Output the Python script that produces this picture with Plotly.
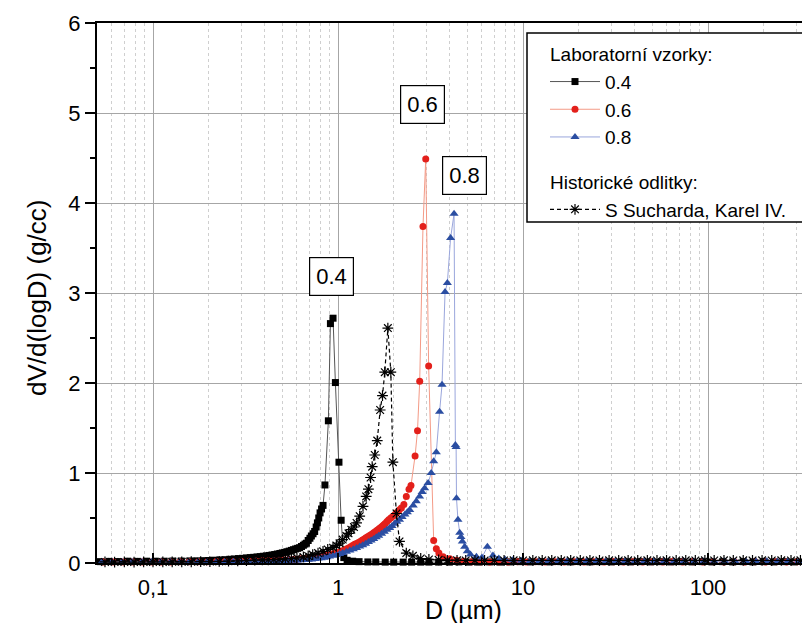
import math
import plotly.graph_objects as go

# ---------------- data ----------------
X_04 = [0.052, 0.058, 0.065, 0.073, 0.082, 0.092, 0.103, 0.115, 0.128, 0.142,
        0.158, 0.172, 0.187, 0.2, 0.215, 0.23, 0.245, 0.26, 0.275, 0.29,
        0.305, 0.32, 0.335, 0.35, 0.365, 0.38, 0.395, 0.41, 0.425, 0.44,
        0.455, 0.47, 0.485, 0.5, 0.515, 0.53, 0.545, 0.56, 0.575, 0.59,
        0.605, 0.62, 0.635, 0.65, 0.663, 0.675, 0.69, 0.705, 0.718, 0.733,
        0.748, 0.762, 0.774, 0.787, 0.8, 0.815, 0.83, 0.85, 0.887, 0.91,
        0.94, 0.968, 1.012, 1.04, 1.075, 1.12, 1.2, 1.3, 1.45, 1.6,
        1.8, 2.0, 2.25, 2.5, 2.8, 3.1, 3.5, 4.0, 4.5, 5.1,
        5.8, 6.6, 7.5, 8.5, 9.7, 11, 12.5, 14, 16, 18,
        20.5, 23, 26, 30, 34, 38, 43, 49, 56, 63,
        72, 82, 93, 105, 120, 136, 155, 175, 200, 227,
        258, 293, 333]
Y_04 = [0.015, 0.018, 0.016, 0.02, 0.018, 0.02, 0.02, 0.02, 0.022, 0.022,
        0.023, 0.024, 0.026, 0.028, 0.031, 0.034, 0.037, 0.041, 0.045, 0.049,
        0.052, 0.056, 0.06, 0.063, 0.067, 0.071, 0.075, 0.079, 0.084, 0.089,
        0.094, 0.1, 0.106, 0.112, 0.118, 0.125, 0.132, 0.14, 0.148, 0.156,
        0.163, 0.17, 0.183, 0.197, 0.21, 0.22, 0.25, 0.275, 0.3, 0.325,
        0.35, 0.4, 0.446, 0.5, 0.557, 0.6, 0.64, 0.867, 1.58, 2.66,
        2.72, 2.005, 1.12, 0.475, 0.06, 0.03, 0.02, 0.015, 0.012, 0.012,
        0.01, 0.01, 0.01, 0.01, 0.01, 0.01, 0.01, 0.01, 0.012, 0.01,
        0.01, 0.012, 0.01, 0.012, 0.015, 0.012, 0.015, 0.012, 0.015, 0.012,
        0.015, 0.012, 0.015, 0.012, 0.015, 0.012, 0.015, 0.012, 0.015, 0.012,
        0.015, 0.012, 0.015, 0.012, 0.015, 0.012, 0.015, 0.012, 0.015, 0.012,
        0.015, 0.012, 0.015]

X_06 = [0.054, 0.061, 0.069, 0.078, 0.088, 0.099, 0.111, 0.125, 0.14, 0.157,
        0.176, 0.197, 0.22, 0.245, 0.272, 0.3, 0.33, 0.36, 0.39, 0.42,
        0.45, 0.48, 0.51, 0.54, 0.57, 0.6, 0.63, 0.66, 0.69, 0.72,
        0.75, 0.78, 0.81, 0.84, 0.87, 0.9, 0.93, 0.96, 0.99, 1.02,
        1.05, 1.08, 1.11, 1.14, 1.17, 1.2, 1.23, 1.26, 1.29, 1.32,
        1.35, 1.38, 1.41, 1.44, 1.47, 1.5, 1.53, 1.56, 1.59, 1.62,
        1.65, 1.68, 1.71, 1.74, 1.77, 1.8, 1.84, 1.88, 1.93, 1.98,
        2.03, 2.08, 2.14, 2.2, 2.27, 2.34, 2.42, 2.48, 2.61, 2.69,
        2.765, 2.88, 2.98, 3.09, 3.29, 3.4, 3.51, 3.7, 4.02, 4.37,
        4.8, 5.3, 5.9, 6.6, 7.4, 8.3, 9.3, 10.4, 11.7, 13.2,
        14.9, 16.8, 19, 21.5, 24.3, 27.5, 31, 35, 39.5, 44.5,
        50, 57, 64, 73, 83, 94, 107, 122, 139, 158,
        180, 205, 234, 266, 303, 345]
Y_06 = [0.01, 0.012, 0.01, 0.012, 0.01, 0.012, 0.012, 0.012, 0.013, 0.013,
        0.014, 0.015, 0.016, 0.017, 0.018, 0.019, 0.02, 0.022, 0.024, 0.026,
        0.028, 0.031, 0.034, 0.037, 0.04, 0.043, 0.047, 0.051, 0.055, 0.059,
        0.064, 0.069, 0.074, 0.08, 0.086, 0.092, 0.099, 0.106, 0.114, 0.122,
        0.132, 0.143, 0.155, 0.167, 0.18, 0.195, 0.207, 0.218, 0.229, 0.24,
        0.252, 0.265, 0.277, 0.29, 0.3, 0.31, 0.322, 0.335, 0.347, 0.36,
        0.372, 0.385, 0.397, 0.41, 0.425, 0.44, 0.46, 0.48, 0.5, 0.52,
        0.54, 0.56, 0.59, 0.61, 0.65, 0.74, 0.82, 0.86, 1.19, 1.47,
        2.02, 3.74, 4.49, 2.19, 0.25, 0.157, 0.11, 0.07, 0.047, 0.03,
        0.02, 0.015, 0.015, 0.012, 0.015, 0.012, 0.015, 0.012, 0.015, 0.012,
        0.015, 0.012, 0.015, 0.012, 0.015, 0.012, 0.015, 0.012, 0.015, 0.012,
        0.015, 0.012, 0.015, 0.012, 0.015, 0.012, 0.015, 0.012, 0.015, 0.012,
        0.015, 0.012, 0.015, 0.012, 0.015, 0.012]

X_08 = [0.053, 0.06, 0.068, 0.077, 0.087, 0.098, 0.11, 0.124, 0.139, 0.156,
        0.175, 0.196, 0.22, 0.245, 0.272, 0.3, 0.33, 0.36, 0.39, 0.42,
        0.45, 0.48, 0.51, 0.54, 0.57, 0.6, 0.63, 0.66, 0.69, 0.72,
        0.75, 0.78, 0.81, 0.84, 0.87, 0.9, 0.94, 0.98, 1.02, 1.06,
        1.11, 1.16, 1.21, 1.26, 1.31, 1.36, 1.41, 1.46, 1.51, 1.56,
        1.61, 1.66, 1.72, 1.78, 1.84, 1.9, 1.96, 2.02, 2.08, 2.15,
        2.22, 2.3, 2.37, 2.44, 2.55, 2.65, 2.76, 2.85, 2.94, 3.07,
        3.19, 3.29, 3.4, 3.54, 3.65, 3.79, 3.9, 4.06, 4.24, 4.31,
        4.35, 4.37, 4.45, 4.55, 4.62, 4.7, 4.84, 5.0, 5.2, 5.6,
        6.0, 6.42, 6.88, 7.4, 8.0, 8.8, 9.8, 10.9, 12.2, 13.7,
        15.4, 17.3, 19.5, 22, 24.8, 28, 31.6, 35.6, 40.2, 45.3,
        51, 58, 65.5, 74, 84, 95, 108, 123, 140, 160,
        182, 208, 237, 270, 308, 350]
Y_08 = [0.012, 0.01, 0.012, 0.01, 0.012, 0.01, 0.012, 0.012, 0.012, 0.012,
        0.013, 0.013, 0.014, 0.015, 0.015, 0.016, 0.017, 0.018, 0.019, 0.02,
        0.021, 0.022, 0.023, 0.025, 0.027, 0.029, 0.031, 0.034, 0.037, 0.04,
        0.044, 0.049, 0.054, 0.059, 0.065, 0.071, 0.08, 0.09, 0.1, 0.11,
        0.125, 0.138, 0.152, 0.168, 0.183, 0.198, 0.215, 0.232, 0.25, 0.268,
        0.285, 0.303, 0.325, 0.348, 0.37, 0.39, 0.41, 0.435, 0.458, 0.48,
        0.51, 0.54, 0.565, 0.59, 0.64, 0.685, 0.74, 0.79, 0.83, 0.89,
        1.0, 1.13, 1.23, 1.68, 1.98, 3.01, 3.11, 3.61, 3.88, 1.31,
        1.29, 0.72, 0.48, 0.335, 0.29, 0.24, 0.18, 0.13, 0.094, 0.07,
        0.06, 0.18, 0.083, 0.05, 0.04, 0.03, 0.025, 0.02, 0.018, 0.02,
        0.018, 0.02, 0.018, 0.02, 0.018, 0.02, 0.018, 0.02, 0.018, 0.02,
        0.018, 0.02, 0.018, 0.02, 0.018, 0.02, 0.018, 0.02, 0.018, 0.02,
        0.018, 0.02, 0.018, 0.02, 0.018, 0.02]

X_SUCH = [0.055, 0.062, 0.07, 0.079, 0.089, 0.1, 0.113, 0.127, 0.143, 0.161,
          0.181, 0.203, 0.228, 0.256, 0.287, 0.32, 0.355, 0.39, 0.42, 0.45,
          0.48, 0.52, 0.56, 0.6, 0.65, 0.69, 0.73, 0.78, 0.83, 0.88,
          0.94, 0.98, 1.02, 1.06, 1.11, 1.14, 1.18, 1.22, 1.26, 1.31,
          1.365, 1.42, 1.46, 1.5, 1.53, 1.58, 1.63, 1.69, 1.74, 1.79,
          1.86, 1.93, 1.98, 2.07, 2.15, 2.34, 2.54, 2.8, 3.1, 3.5,
          3.9, 4.4, 4.9, 5.5, 6.2, 7.0, 7.9, 8.9, 10, 11.3,
          12.7, 14.3, 16.1, 18.1, 20.4, 23, 25.9, 29.2, 32.9, 37,
          41.7, 47, 53, 59.7, 67.3, 75.8, 85.4, 96.2, 108, 122,
          137, 155, 174, 196, 221, 249, 281, 316, 356]
Y_SUCH = [0.012, 0.01, 0.012, 0.01, 0.012, 0.012, 0.012, 0.013, 0.013, 0.014,
          0.015, 0.016, 0.018, 0.02, 0.023, 0.027, 0.031, 0.034, 0.036, 0.038,
          0.04, 0.045, 0.05, 0.058, 0.068, 0.078, 0.094, 0.11, 0.13, 0.15,
          0.17, 0.195, 0.22, 0.26, 0.3, 0.33, 0.37, 0.4, 0.445, 0.52,
          0.63, 0.74, 0.82, 0.95, 1.07, 1.2, 1.36, 1.7, 1.86, 2.12,
          2.61, 2.12, 1.12, 0.55, 0.24, 0.11, 0.08, 0.05, 0.04, 0.035,
          0.03, 0.03, 0.028, 0.03, 0.028, 0.03, 0.028, 0.03, 0.028, 0.03,
          0.028, 0.03, 0.028, 0.03, 0.028, 0.03, 0.028, 0.03, 0.028, 0.03,
          0.028, 0.03, 0.028, 0.03, 0.028, 0.03, 0.028, 0.03, 0.028, 0.03,
          0.028, 0.03, 0.028, 0.03, 0.028, 0.03, 0.028, 0.03, 0.028]

SERIES_NAMES = ["0.4", "0.6", "0.8", "S Sucharda, Karel IV."]
GROUP_TITLES = ["Laboratorní vzorky:", "Historické odlitky:"]
X_TICK_VALS = [0.1, 1, 10, 100]
X_TICK_TEXT = ["0,1", "1", "10", "100"]
PEAK_LABELS = ["0.4", "0.6", "0.8"]
PEAK_LABEL_POS = [(0.921, 3.18), (2.87, 5.10), (4.84, 4.31)]

for a, b in [(X_04, Y_04), (X_06, Y_06), (X_08, Y_08), (X_SUCH, Y_SUCH)]:
    assert len(a) == len(b), (len(a), len(b))

FONT = "Arial, Liberation Sans, sans-serif"

# page body has an 8px margin: figure sized so the page does not scroll
W, H = 794, 615
ML, MT, PH = 89, 15, 540
PW = W - ML

fig = go.Figure()
fig.add_trace(go.Scatter(
    x=X_04, y=Y_04, name=SERIES_NAMES[0], mode="lines+markers",
    line=dict(color="#555555", width=1),
    marker=dict(symbol="square", size=7, color="black"),
    legendgroup="lab", legendgrouptitle=dict(text=GROUP_TITLES[0]),
    cliponaxis=False))
fig.add_trace(go.Scatter(
    x=X_06, y=Y_06, name=SERIES_NAMES[1], mode="lines+markers",
    line=dict(color="#f49a86", width=1),
    marker=dict(symbol="circle", size=7, color="#e3201b"),
    legendgroup="lab", cliponaxis=False))
fig.add_trace(go.Scatter(
    x=X_08, y=Y_08, name=SERIES_NAMES[2], mode="lines+markers",
    line=dict(color="#9aa6dc", width=1),
    marker=dict(symbol="triangle-up", size=8, color="#2b4ea2"),
    legendgroup="lab", cliponaxis=False))
fig.add_trace(go.Scatter(
    x=X_SUCH, y=Y_SUCH, name=SERIES_NAMES[3], mode="lines+markers",
    line=dict(color="black", width=1.2, dash="4px,3px"),
    marker=dict(symbol="asterisk-open", size=9, color="black",
                line=dict(color="black", width=1.2)),
    legendgroup="hist", legendgrouptitle=dict(text=GROUP_TITLES[1]),
    cliponaxis=False))

minor_vals = [m * 10 ** e for e in range(-2, 3) for m in range(2, 10)]

x_lo = -1.3027
x_hi = x_lo + PW / 185.0

fig.update_xaxes(
    type="log", range=[x_lo, x_hi],
    tickmode="array", tickvals=X_TICK_VALS, ticktext=X_TICK_TEXT,
    ticks="inside", ticklen=10, tickwidth=1.5, tickcolor="black",
    tickfont=dict(family=FONT, size=22, color="black"),
    showgrid=True, gridcolor="#a6a6a6", gridwidth=1,
    minor=dict(tickmode="array", tickvals=minor_vals, ticks="inside",
               ticklen=5, tickcolor="black", tickwidth=1,
               showgrid=True, gridcolor="#cfcfcf", griddash="dot", gridwidth=1),
    showline=True, linecolor="black", linewidth=2, mirror=True,
    zeroline=False, ticklabelstandoff=4)
fig.update_yaxes(
    range=[0, 6], tickmode="linear", tick0=0, dtick=1,
    ticks="outside", ticklen=10, tickwidth=1.5, tickcolor="black",
    tickfont=dict(family=FONT, size=22, color="black"),
    showgrid=True, gridcolor="#a6a6a6", gridwidth=1,
    minor=dict(dtick=0.5, ticks="outside", ticklen=5, tickcolor="black",
               tickwidth=1.5, showgrid=False),
    showline=True, linecolor="black", linewidth=2, mirror=False,
    zeroline=False)


def px_x(abs_x):
    return (abs_x - 8 - ML) / PW


def px_y(abs_y):
    return (8 + MT + PH - abs_y) / PH


annotations = []
for lab, (px, py) in zip(PEAK_LABELS, PEAK_LABEL_POS):
    annotations.append(dict(
        x=math.log10(px), y=py, xref="x", yref="y", text=lab, showarrow=False,
        font=dict(family=FONT, size=22, color="black"),
        bgcolor="white", bordercolor="black", borderwidth=1.2, borderpad=6))
annotations.append(dict(
    x=px_x(463), y=px_y(626), xref="paper", yref="paper", text="D (µm)",
    showarrow=False, font=dict(family=FONT, size=25, color="black"),
    xanchor="center", yanchor="bottom"))
annotations.append(dict(
    x=px_x(37), y=px_y(298), xref="paper", yref="paper",
    text="dV/d(logD) (g/cc)", showarrow=False, textangle=-90,
    font=dict(family=FONT, size=26, color="black"),
    xanchor="center", yanchor="middle"))

# legend frame (its right side runs off the picture in the reference)
legend_box = dict(type="rect", xref="paper", yref="paper",
                  x0=px_x(527), x1=px_x(830), y0=px_y(222), y1=px_y(33),
                  fillcolor="white", line=dict(color="black", width=1.5),
                  layer="above")

fig.update_layout(
    width=W, height=H,
    margin=dict(l=ML, r=0, t=MT, b=H - MT - PH),
    paper_bgcolor="white", plot_bgcolor="white",
    font=dict(family=FONT, color="black"),
    annotations=annotations,
    shapes=[legend_box],
    legend=dict(
        x=px_x(545), y=px_y(35), xanchor="left", yanchor="top",
        bgcolor="rgba(0,0,0,0)", borderwidth=0,
        font=dict(family=FONT, size=19, color="black"),
        grouptitlefont=dict(family=FONT, size=19, color="black"),
        traceorder="grouped", tracegroupgap=17, itemwidth=50),
    showlegend=True,
)

fig.write_html("out.html")
